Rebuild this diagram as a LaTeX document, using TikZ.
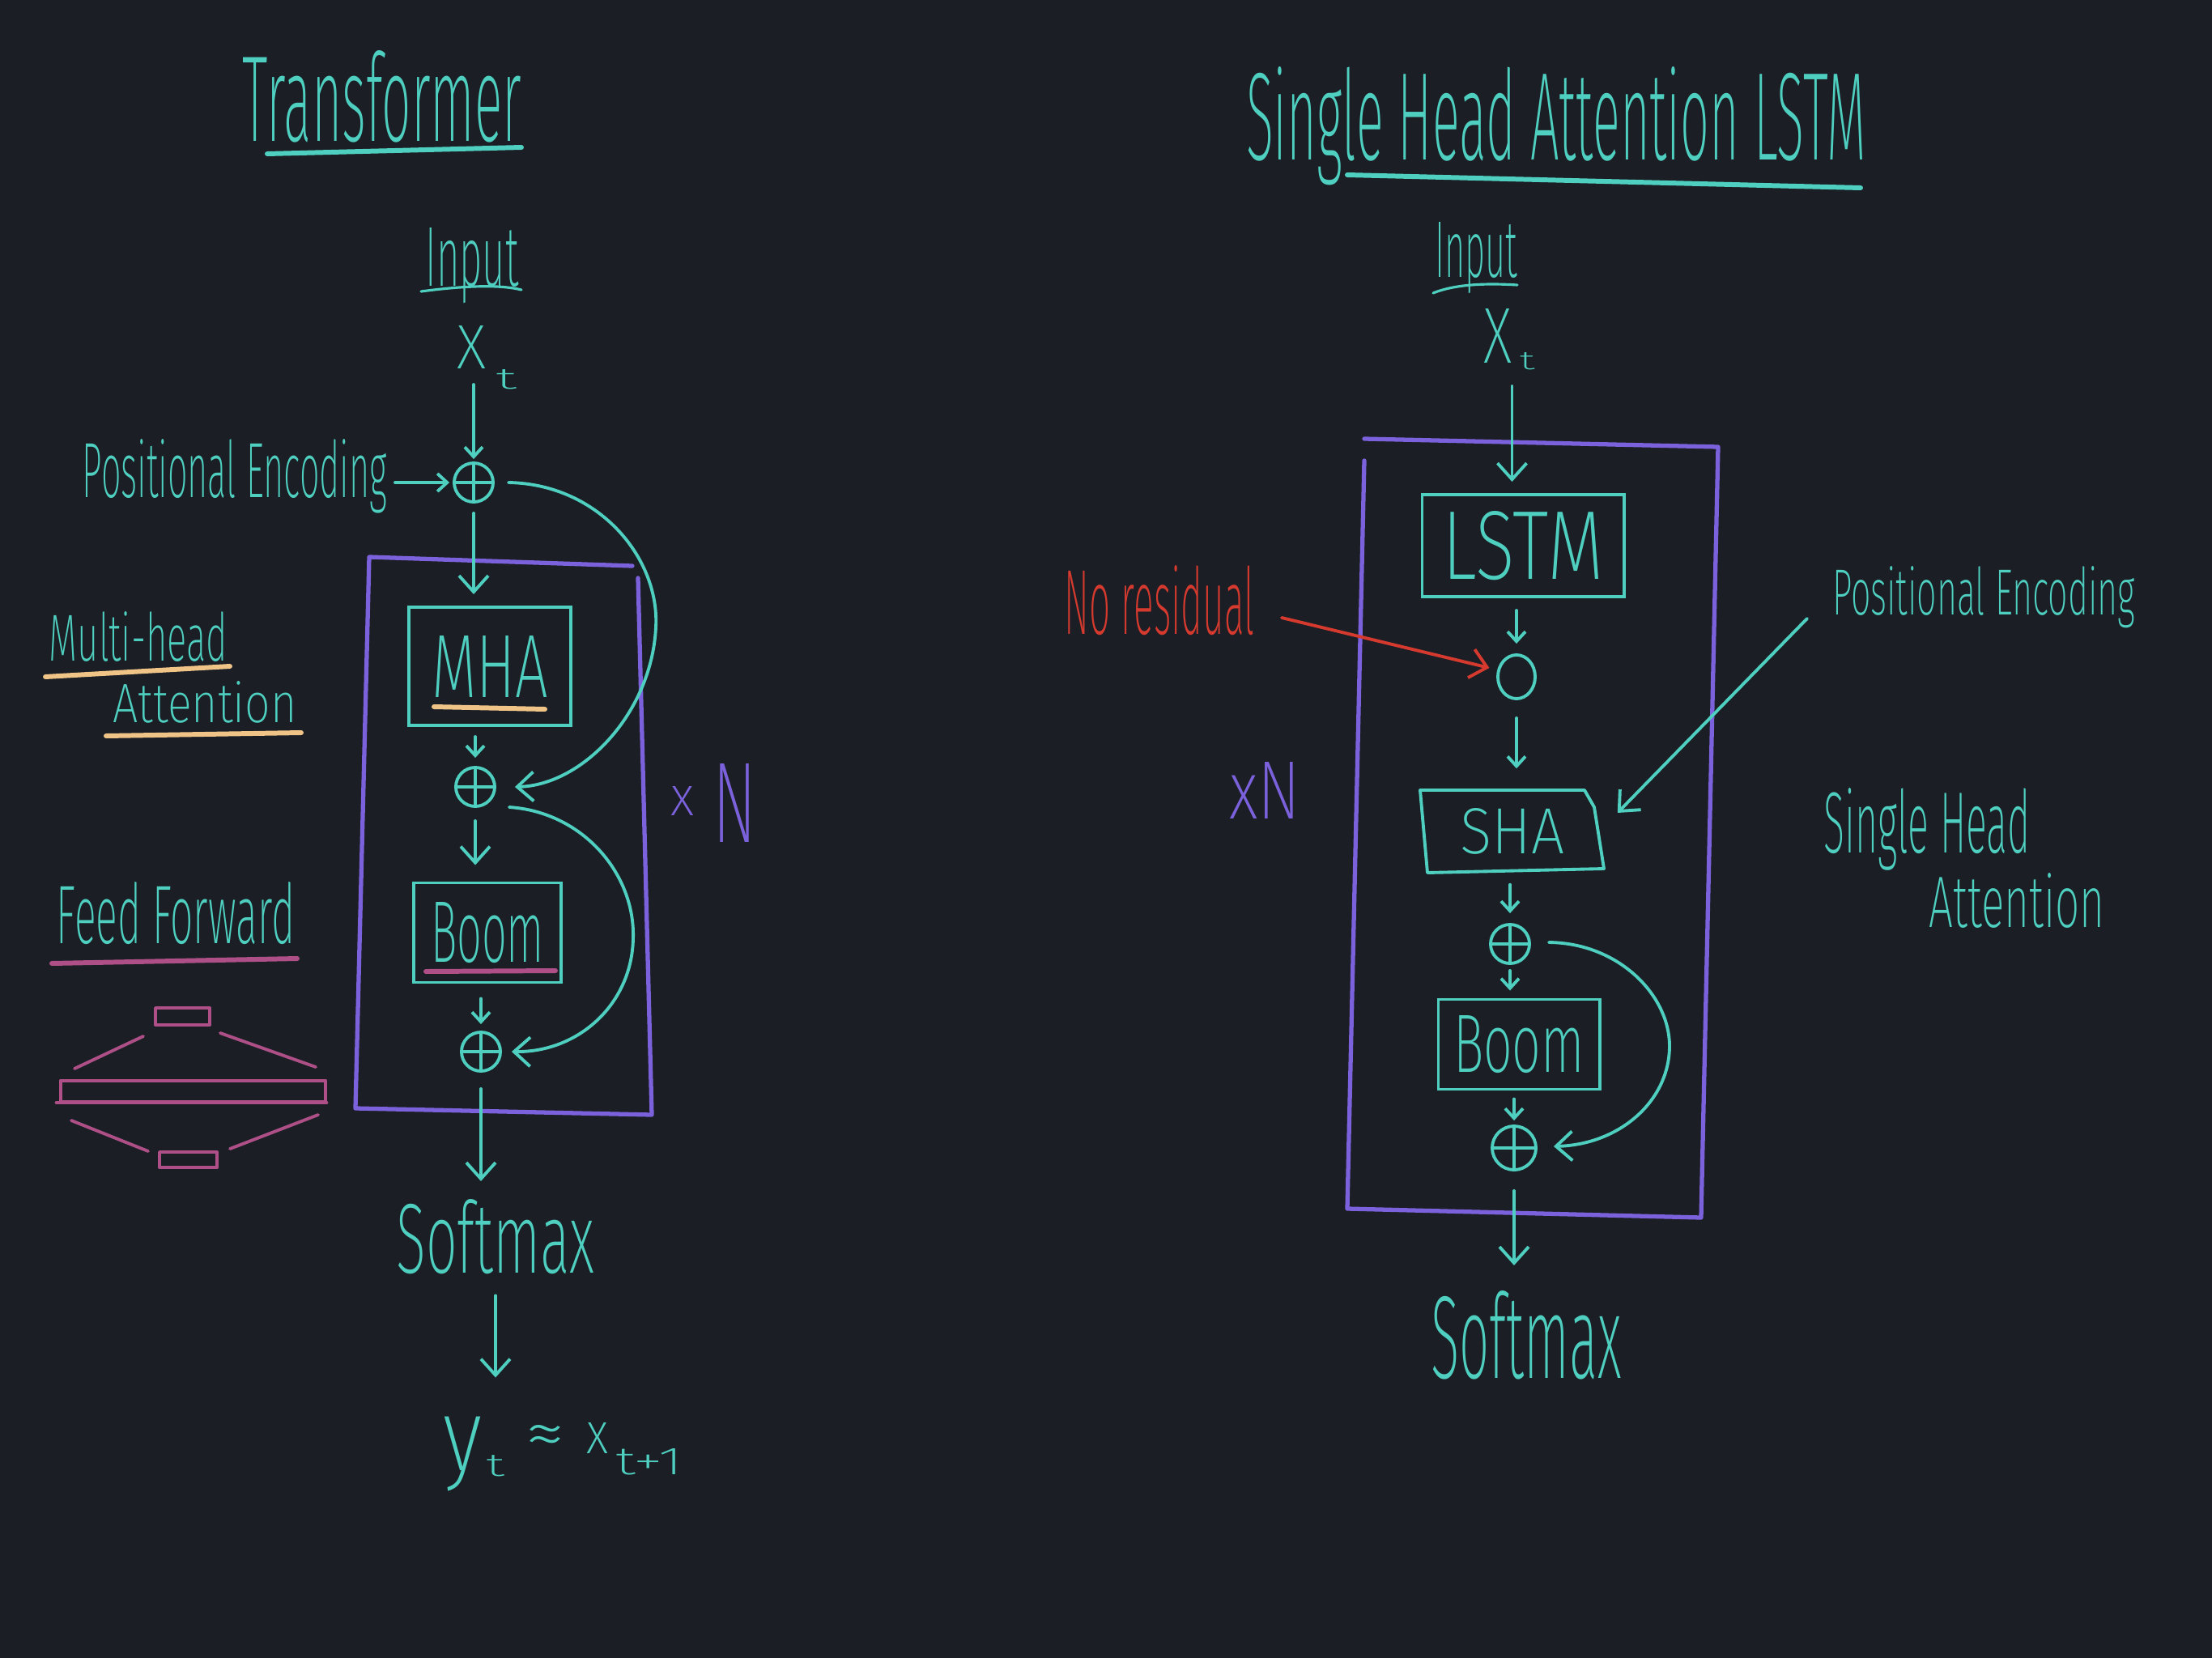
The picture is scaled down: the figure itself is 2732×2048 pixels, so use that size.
\documentclass[tikz,border=0pt]{standalone}
\usepackage{fontspec}
\usepackage{graphicx}
\newfontfamily\hand{Fira Sans ExtraLight}
\usetikzlibrary{arrows.meta,calc,shapes.geometric}
\newdimen\px \px=0.01cm
\newcommand{\hw}[3]{\resizebox{#1\px}{#2\px}{\hand #3}}
\newcommand{\hwt}[3]{\resizebox*{#1\px}{#2\px}{\hand #3}}
\definecolor{bgc}{HTML}{1B1F25}
\definecolor{tealc}{HTML}{4ECFC0}
\definecolor{purp}{HTML}{7B62DC}
\definecolor{orng}{HTML}{F0C486}
\definecolor{magc}{HTML}{AE4F87}
\definecolor{redc}{HTML}{D63A2E}
\begin{document}
\begin{tikzpicture}[x=0.01cm,y=-0.01cm,
  tl/.style={draw=tealc, line width=1.1pt, line cap=round, line join=round},
  txt/.style={inner sep=0pt, outer sep=0pt, anchor=base, text=tealc},
  box/.style={draw=tealc, line width=1.1pt, inner sep=0pt, rectangle, text=tealc},
  opl/.style={circle, draw=tealc, line width=1.1pt, minimum size=0.48cm, inner sep=0pt,
    path picture={\draw[tealc, line width=1.1pt] (path picture bounding box.north) -- (path picture bounding box.south) (path picture bounding box.west) -- (path picture bounding box.east);}},
  arrS/.style={-{Straight Barb[length=0.12cm,width=0.22cm]}},
  arrL/.style={-{Straight Barb[length=0.2cm,width=0.36cm]}},
  pl/.style={draw=purp, line width=1.5pt, line cap=round, line join=round},
  ul/.style={line width=1.7pt, line cap=round},
  ff/.style={draw=magc, line width=1.1pt, line cap=round, line join=round}
]
\useasboundingbox (0,0) rectangle (2732,2048);
\fill[bgc] (0,0) rectangle (2732,2048);

% ================= LEFT: Transformer =================
\node[txt] (title1) at (472,174) {\hw{344}{112}{Transformer}};
\draw[tealc, ul] (330,190) -- (644,182);

\node[txt] (in1) at (583,353) {\hw{115}{72}{Input}};
\draw[tealc, line width=0.9pt, line cap=round] (520,360) .. controls (580,352) and (620,352) .. (644,358);

\node[txt] (xt) at (582,455) {\hw{36}{53}{X}};
\node[txt] (xtsub) at (625,480) {\hw{26}{24}{t}};

\node[opl] (op1) at (585,596) {};
\node[txt] (pe) at (290,614) {\hw{376}{72}{Positional Encoding}};

\draw[tl, arrS, shorten <=0.2cm, shorten >=0.03cm] (op1 |- xt.south) -- (op1.north);
\draw[tl, arrS, shorten <=0.1cm, shorten >=0.04cm] (pe.east |- op1) -- (op1.west);

% purple block
\draw[pl] (781,699) -- (456,688) -- (439,1369) -- (805,1377) -- (788,714);

\node[box, minimum width=2cm, minimum height=1.46cm] (mha) at (605,823) {\hw{144}{76}{MHA}};
\draw[orng, ul] (536,873) -- (673,876);
\draw[tl, arrL, shorten <=0.12cm, shorten >=0.14cm] (op1.south) -- (op1 |- mha.north);

\node[opl] (op2) at (587,972) {};
\draw[tl, arrS, shorten <=0.12cm, shorten >=0.1cm] (op2 |- mha.south) -- (op2.north);

\node[box, minimum width=1.82cm, minimum height=1.23cm] (boom1) at (602,1152) {\hw{140}{74}{Boom}};
\draw[magc, ul] (526,1200) -- (686,1199);
\draw[tl, arrL, shorten <=0.16cm, shorten >=0.2cm] (op2.south) -- (op2 |- boom1.north);

\node[opl] (op3) at (594,1299) {};
\draw[tl, arrS, shorten <=0.18cm, shorten >=0.08cm] (op3 |- boom1.south) -- (op3.north);

% residual connections
\draw[tl, arrL] ([xshift=0.17cm]op1.east) .. controls (740,598) and (815,690) .. (810,775)
   .. controls (805,880) and (720,970) .. ([xshift=0.23cm]op2.east);
\draw[tl, arrL] ([xshift=0.16cm,yshift=-0.25cm]op2.east) .. controls (720,1003) and (785,1080) .. (782,1160)
   .. controls (780,1240) and (715,1300) .. ([xshift=0.12cm]op3.east);

\node[txt, text=purp] (xn1a) at (843,1007) {\hw{29}{36}{x}};
\node[txt, text=purp] (xn1b) at (907,1040) {\hw{54}{97}{N}};

\node[txt] (soft1) at (612,1572) {\hw{245}{91}{Softmax}};
\draw[tl, arrL, shorten <=0.2cm, shorten >=0.22cm] (op3.south) -- (op3 |- soft1.north);

\node[txt] (yt) at (571,1816) {\hwt{48}{92}{y}};
\node[txt] (ytsub) at (612,1823) {\hw{23}{26}{t}};
\node[inner sep=0pt, text=tealc] (approx) at (673,1780) {\resizebox{50\px}{39\px}{\hand ≈}};
\node[txt] (xt1) at (738,1795) {\hw{27}{38}{x}};
\node[txt] (xt1sub) at (802,1821) {\hw{83}{32}{t+1}};
\draw[tl, arrL, shorten <=0.27cm, shorten >=0.48cm] (soft1.south) -- (soft1.south |- yt.north);

% side labels
\node[txt] (mh1) at (171,816) {\hw{220}{61}{Multi-head}};
\draw[orng, ul] (56,836) -- (284,823);
\node[txt] (mh2) at (253,892) {\hw{227}{51}{Attention}};
\draw[orng, ul] (131,909) -- (372,905);
\node[txt] (ffl) at (217,1165) {\hw{294}{76}{Feed Forward}};
\draw[magc, ul] (64,1190) -- (367,1184);

% feed forward sketch
\draw[ff] (192,1245) rectangle (259,1266);
\draw[ff] (177,1280) -- (92,1320);
\draw[ff] (272,1276) -- (390,1318);
\draw[ff, line width=1.4pt] (75,1335) rectangle (402,1361);
\draw[ff, line width=1.4pt] (70,1362) -- (403,1362);
\draw[ff] (88,1384) -- (183,1422);
\draw[ff] (284,1419) -- (393,1377);
\draw[ff] (197,1423) rectangle (268,1442);

% ================= RIGHT: Single Head Attention LSTM =================
\node[txt] (title2) at (1922,197) {\hw{766}{115}{Single Head Attention LSTM}};
\draw[tealc, ul] (1664,216) -- (2298,232);

\node[txt] (in2) at (1823,342) {\hw{102}{68}{Input}};
\draw[tealc, line width=0.9pt, line cap=round] (1770,362) .. controls (1800,350) and (1840,350) .. (1874,352);

\node[txt] (xr) at (1850,448) {\hw{35}{67}{X}};
\node[txt] (xrsub) at (1886,456) {\hw{19}{21}{t}};

\draw[pl] (1685,569) -- (1664,1493) -- (2101,1504) -- (2122,552) -- (1685,542);

\node[box, minimum width=2.49cm, minimum height=1.26cm] (lstm) at (1881,674) {\hw{199}{84}{LSTM}};
\draw[tl, arrL, shorten <=0.29cm, shorten >=0.14cm] (xr.south east) -- (xr.south east |- lstm.north);

\node[ellipse, draw=tealc, line width=1.1pt, minimum width=0.46cm, minimum height=0.54cm, inner sep=0pt] (circ) at (1873,836) {};
\draw[tl, arrS, shorten <=0.15cm, shorten >=0.12cm] (circ |- lstm.south) -- (circ.north);

\node[txt, text=redc] (nores) at (1432,783) {\hw{234}{85}{No residual}};
\draw[draw=redc, line width=1.1pt, line cap=round, arrL, shorten >=0.1cm] ($(nores.base east)+(34,-20)$) -- (circ.160);

\node[inner sep=0pt, minimum width=2.22cm, minimum height=1cm, text=tealc] (sha) at (1868,1027) {\hw{129}{56}{SHA}};
\draw[tl] (1754,976) -- (1957,976) -- (1969,997) -- (1981,1073) -- (1763,1078) -- cycle;
\draw[tl, arrS, shorten <=0.22cm, shorten >=0.27cm] (circ.south) -- (circ |- sha.north);

\node[txt] (per) at (2450,759) {\hw{374}{60}{Positional Encoding}};
\draw[tl, arrL] ($(per.base west)+(-31,5)$) -- ($(sha.east)+(18,-23)$);

\node[txt, text=purp] (xn2) at (1562,1011) {\hw{88}{70}{xN}};

\node[txt] (sh1) at (2380,1053) {\hw{255}{80}{Single Head}};
\node[txt] (sh2) at (2491,1145) {\hw{217}{67}{Attention}};

\node[opl] (opa) at (1865,1166) {};
\draw[tl, arrS, shorten <=0.15cm, shorten >=0.12cm] (opa |- sha.south) -- (opa.north);

\node[box, minimum width=1.99cm, minimum height=1.11cm] (boom2) at (1876,1290) {\hw{162}{70}{Boom}};
\draw[tl, arrS, shorten <=0.07cm, shorten >=0.09cm] (opa.south) -- (opa |- boom2.north);

\node[opl, minimum size=0.54cm] (opb) at (1870,1418) {};
\draw[tl, arrS, shorten <=0.1cm, shorten >=0.05cm] (opb |- boom2.south) -- (opb.north);

\draw[tl, arrL] ($(opa.east)+(22,-2)$) .. controls (2000,1165) and (2062,1230) .. (2062,1292)
   .. controls (2062,1360) and (2000,1414) .. ($(opb.east)+(20,-2)$);

\node[txt] (soft2) at (1885,1702) {\hw{235}{108}{Softmax}};
\draw[tl, arrL, shorten <=0.24cm, shorten >=0.31cm] (opb.south) -- (opb |- soft2.north);

\end{tikzpicture}
\end{document}
